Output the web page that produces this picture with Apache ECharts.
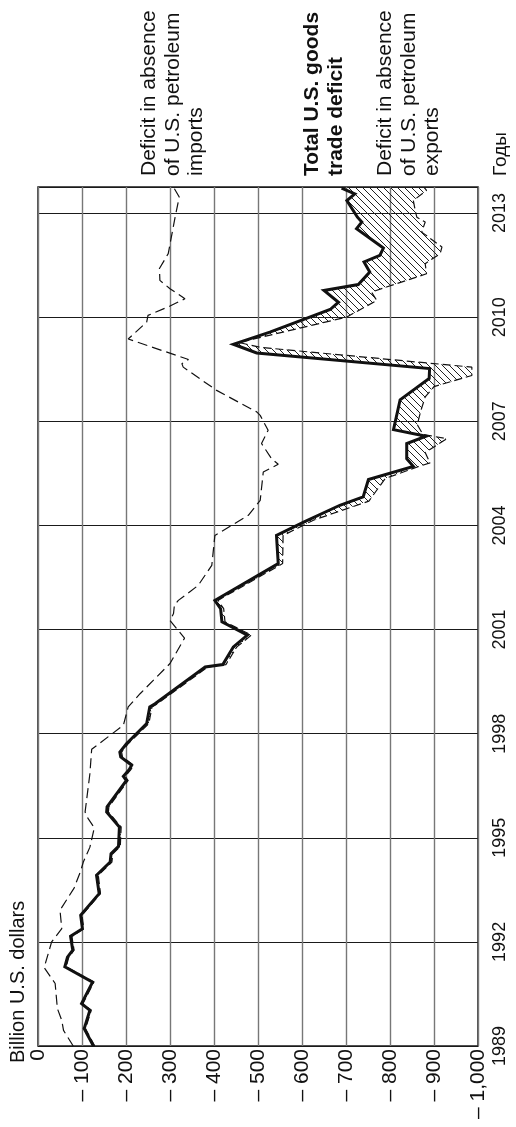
<!DOCTYPE html>
<html><head><meta charset="utf-8">
<script src="https://cdn.jsdelivr.net/npm/echarts@6/dist/echarts.min.js"></script>
<style>html,body{margin:0;padding:0;background:#fff}#c{width:516px;height:1127px}</style>
</head><body><div id="c"></div>
<script>
// ---- data (billion U.S. dollars; deficit shown as negative) ----
const totalYears = [1989.00,1989.50,1990.03,1990.22,1990.84,1991.28,1991.56,1991.76,1992.16,1992.38,1992.77,1993.39,1993.92,1994.30,1994.54,1994.75,1995.31,1995.74,1995.89,1996.65,1996.77,1996.96,1997.09,1997.33,1997.47,1997.71,1998.29,1998.77,1998.86,1999.92,1999.99,2000.50,2000.84,2001.22,2001.60,2001.84,2002.90,2003.71,2004.10,2004.58,2004.82,2005.32,2005.70,2005.92,2006.36,2006.57,2006.76,2007.62,2008.23,2008.52,2008.97,2009.22,2009.57,2010.22,2010.43,2010.77,2010.94,2011.30,2011.59,2011.78,2011.99,2012.55,2012.74,2012.88,2013.36,2013.55,2013.72];
const totalValues = [-126,-105,-118,-99,-124,-61,-67,-79,-74,-101,-97,-139,-133,-164,-166,-183,-185,-156,-157,-201,-194,-207,-213,-188,-186,-201,-247,-254,-266,-380,-420,-444,-476,-418,-415,-402,-546,-542,-605,-686,-739,-751,-853,-838,-838,-882,-808,-823,-889,-890,-497,-444,-527,-664,-683,-650,-728,-754,-741,-777,-785,-724,-736,-726,-702,-720,-690];

const exportsYears = [1989.00,1989.50,1990.03,1990.22,1990.84,1991.28,1991.56,1991.76,1992.16,1992.38,1992.77,1993.39,1993.92,1994.30,1994.54,1994.75,1995.31,1995.74,1995.89,1996.65,1996.77,1996.96,1997.09,1997.33,1997.47,1997.71,1998.29,1998.77,1998.86,1999.92,1999.99,2000.50,2000.84,2001.22,2001.60,2001.84,2002.90,2003.71,2004.15,2004.70,2005.35,2005.70,2005.80,2006.10,2006.50,2006.62,2006.90,2007.30,2007.70,2008.00,2008.32,2008.56,2009.13,2009.27,2010.00,2010.48,2010.72,2010.87,2011.06,2011.25,2011.54,2011.83,2012.02,2012.45,2012.74,2012.88,2013.03,2013.36,2013.65,2013.73];
const exportsValues = [-129,-108,-121,-102,-127,-64,-70,-82,-77,-104,-100,-142,-137,-168,-170,-187,-189,-160,-161,-205,-198,-211,-217,-192,-190,-205,-252,-259,-271,-386,-427,-452,-485,-425,-422,-409,-556,-557,-626,-752,-789,-866,-891,-880,-929,-875,-862,-870,-880,-900,-986,-986,-505,-456,-701,-770,-758,-792,-838,-883,-880,-914,-918,-872,-880,-861,-858,-853,-883,-878];

const importsYears = [1989.00,1989.45,1989.74,1990.08,1990.80,1991.26,1992.00,1992.38,1992.91,1993.55,1994.01,1994.30,1994.73,1995.29,1995.55,1995.74,1996.85,1997.55,1998.24,1998.77,1999.15,2000.02,2000.75,2001.26,2001.46,2001.70,2001.84,2002.27,2002.85,2003.71,2004.29,2004.72,2005.54,2005.76,2005.92,2006.36,2006.74,2007.17,2007.27,2007.89,2008.56,2008.66,2008.78,2009.37,2009.86,2010.05,2010.32,2010.53,2010.82,2011.06,2011.40,2011.83,2012.84,2013.46,2013.72];
const importsValues = [-80,-58,-54,-44,-39,-14,-31,-54,-50,-82,-96,-103,-118,-128,-114,-107,-118,-122,-194,-205,-232,-300,-333,-300,-308,-310,-319,-364,-395,-402,-478,-505,-512,-546,-531,-508,-523,-505,-497,-406,-330,-327,-342,-205,-247,-250,-300,-334,-300,-277,-276,-296,-311,-321,-309];

const yearTicks = [1989,1992,1995,1998,2001,2004,2007,2010,2013];
const valueTicks = [0,-100,-200,-300,-400,-500,-600,-700,-800,-900,-1000];

const unitLabel = 'Billion U.S. dollars';
const importsLabel = 'Deficit in absence\nof U.S. petroleum\nimports';
const totalLabel = 'Total U.S. goods\ntrade deficit';
const exportsLabel = 'Deficit in absence\nof U.S. petroleum\nexports';
const yearsLabel = 'Годы';

// ---- build ----
const FONT = '"Liberation Sans", Arial, Helvetica, sans-serif';
const pair = (ys, vs) => ys.map((y, i) => [vs[i], y]);
const totalData = pair(totalYears, totalValues);
const exportsData = pair(exportsYears, exportsValues);
const importsData = pair(importsYears, importsValues);

function hatchCanvas() {
  const s = 7, c = document.createElement('canvas');
  c.width = s; c.height = s;
  const g = c.getContext('2d');
  g.strokeStyle = '#222'; g.lineWidth = 1;
  g.beginPath();
  for (let k = -1; k <= 1; k++) { g.moveTo(k * s, 0); g.lineTo(k * s + s, s); }
  g.stroke();
  return c;
}
const hatch = hatchCanvas();

function fmtValue(v) {
  if (!valueTicks.includes(v)) return '';
  if (v === 0) return '0';
  return '\u2013 ' + Math.abs(v).toLocaleString('en-US');
}

const chart = echarts.init(document.getElementById('c'), null, { renderer: 'canvas' });
chart.setOption({
  animation: false,
  backgroundColor: '#fff',
  grid: { left: 38, right: 38, top: 187, bottom: 81, show: true, borderColor: '#1a1a1a', borderWidth: 1.5, backgroundColor: 'transparent' },
  xAxis: {
    type: 'value', min: -1000, max: 0, interval: 100, inverse: true,
    axisLine: { show: false }, axisTick: { show: false },
    splitLine: { show: true, lineStyle: { color: '#777', width: 1.4 } },
    axisLabel: { rotate: 90, margin: 3, formatter: fmtValue, color: '#111', fontSize: 21, fontFamily: FONT }
  },
  yAxis: {
    type: 'value', position: 'right', min: 1989, max: 2013.75, interval: 3,
    axisLine: { show: false }, axisTick: { show: false },
    splitLine: { show: true, lineStyle: { color: '#1a1a1a', width: 1 } },
    axisLabel: { rotate: 90, margin: 13, color: '#111', fontSize: 18, fontFamily: FONT,
      formatter: v => yearTicks.includes(v) ? String(v) : '' }
  },
  series: [
    { type: 'custom', coordinateSystem: 'cartesian2d', data: totalData, z: 1, silent: true,
      renderItem: (params, api) => {
        if (params.dataIndex !== 0) return null;
        const pts = [];
        totalData.forEach(d => pts.push(api.coord(d)));
        exportsData.slice().reverse().forEach(d => pts.push(api.coord(d)));
        return { type: 'polygon', shape: { points: pts }, style: { fill: { image: hatch, repeat: 'repeat' }, stroke: null } };
      } },
    { type: 'line', data: importsData, z: 2, showSymbol: false, symbol: 'none', silent: true,
      lineStyle: { color: '#111', width: 1.2, type: [10, 5] } },
    { type: 'line', data: exportsData, z: 3, showSymbol: false, symbol: 'none', silent: true,
      lineStyle: { color: '#111', width: 1.2, type: [8, 4] } },
    { type: 'line', data: totalData, z: 4, showSymbol: false, symbol: 'none', silent: true,
      lineStyle: { color: '#111', width: 3, join: 'miter' } }
  ],
  graphic: [
    { type: 'text', x: 18.5, y: 1063, rotation: Math.PI / 2,
      style: { text: unitLabel, font: '20px ' + FONT, fill: '#111', align: 'left', verticalAlign: 'middle' } },
    { type: 'text', x: 137.5, y: 176, rotation: Math.PI / 2,
      style: { text: importsLabel, font: '21px ' + FONT, lineHeight: 23.5, fill: '#111', align: 'left', verticalAlign: 'top' } },
    { type: 'text', x: 300.5, y: 176, rotation: Math.PI / 2,
      style: { text: totalLabel, font: 'bold 21px ' + FONT, lineHeight: 23.5, fill: '#111', align: 'left', verticalAlign: 'top' } },
    { type: 'text', x: 373.5, y: 176, rotation: Math.PI / 2,
      style: { text: exportsLabel, font: '21px ' + FONT, lineHeight: 23.5, fill: '#111', align: 'left', verticalAlign: 'top' } },
    { type: 'text', x: 501, y: 176, rotation: Math.PI / 2,
      style: { text: yearsLabel, font: '19px ' + FONT, fill: '#111', align: 'left', verticalAlign: 'middle' } }
  ]
});
</script>
</body></html>
